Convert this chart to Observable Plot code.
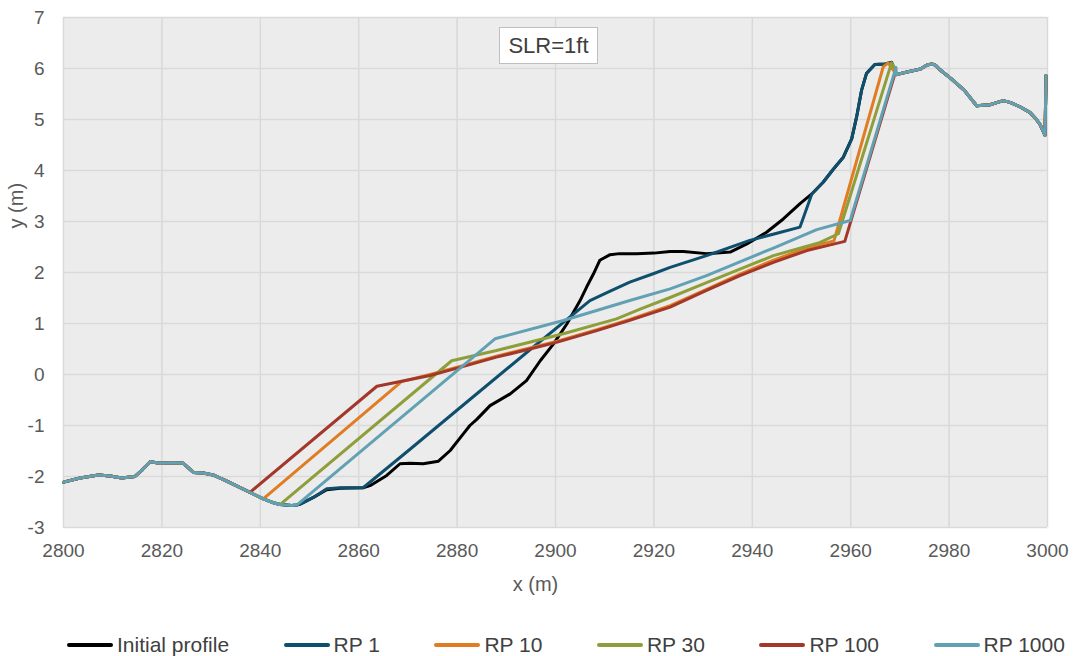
<!DOCTYPE html>
<html>
<head>
<meta charset="utf-8">
<script src="https://cdn.jsdelivr.net/npm/d3@7"></script>
<script src="https://cdn.jsdelivr.net/npm/@observablehq/plot@0.6"></script>
<style>
  body { margin: 0; background: #fff; font-family: "Liberation Sans", Arial, sans-serif; }
  #chart { position: relative; width: 1073px; height: 656px; }
  #chart svg { display: block; }
  .slr {
    position: absolute; left: 499px; top: 27px; width: 99px; height: 37px;
    box-sizing: border-box; border: 1px solid #bfbfbf; background: #fff;
    color: #404040; font-size: 22px; display: flex; align-items: center; justify-content: center;
  }
  .legend {
    position: absolute; left: 67px; top: 632px; height: 26px;
    display: flex; justify-content: flex-start; align-items: center; gap: 54.5px;
    font-size: 21px; color: #404040; white-space: nowrap;
  }
  .legend .item { display: flex; align-items: center; gap: 4px; }
  .legend .swatch { width: 46px; height: 4px; border-radius: 2px; }
</style>
</head>
<body>
<div id="chart"></div>
<script>
// Cross-shore beach profiles: initial and post-storm profiles per return period (SLR = 1 ft)
const seriesNames = ["Initial profile", "RP 1", "RP 10", "RP 30", "RP 100", "RP 1000"];
const seriesColors = ["#000000", "#0f4f6e", "#e07c22", "#8e9e3a", "#a2372a", "#62a1b4"];
const xTicks = [2800, 2820, 2840, 2860, 2880, 2900, 2920, 2940, 2960, 2980, 3000];
const yTicks = [-3, -2, -1, 0, 1, 2, 3, 4, 5, 6, 7];

// Offshore section shared by every profile [x (m), y (m)]
const offshore = [
  [2800, -2.11], [2803.4, -2.03], [2807.1, -1.97], [2809.5, -1.99], [2811.8, -2.03],
  [2814.5, -2.00], [2815.9, -1.88], [2817.6, -1.71], [2819.6, -1.74], [2822.3, -1.73],
  [2824.3, -1.74], [2826.4, -1.92], [2828.4, -1.93], [2830.4, -1.97], [2833.2, -2.09],
  [2835.5, -2.20], [2837.9, -2.31], [2840.6, -2.44], [2842.5, -2.51], [2844.0, -2.55],
  [2846.4, -2.57], [2847.4, -2.56], [2848.1, -2.54]
];

// Dune crest and back-barrier section shared by every profile
const onshore = [
  [2969.3, 5.88], [2971.0, 5.92], [2974.2, 5.99], [2975.5, 6.07], [2976.5, 6.09],
  [2977.3, 6.06], [2978.2, 5.97], [2980.4, 5.80], [2983.1, 5.57], [2985.6, 5.27],
  [2988.3, 5.29], [2991.0, 5.37], [2992.5, 5.33], [2994.4, 5.25], [2996.4, 5.14],
  [2997.5, 5.03], [2998.5, 4.90], [2999.5, 4.69], [2999.7, 5.86]
];

// Dune face shared by the initial profile and RP 1
const duneFace = [
  [2952.1, 3.54], [2954.4, 3.77], [2956.5, 4.03], [2958.5, 4.26], [2960.2, 4.62],
  [2961.2, 5.05], [2962.2, 5.57], [2963.2, 5.90], [2964.9, 6.08], [2967.0, 6.09],
  [2968.3, 6.12]
];

// Section of each profile between the shared parts; the start value is where it leaves the offshore section
const initialStart = 2848.1;
const initialMid = [
  [2850.8, -2.41], [2853.5, -2.26], [2856.2, -2.23], [2860.9, -2.22], [2862.3, -2.18],
  [2865.7, -1.98], [2868.4, -1.75], [2870.4, -1.74], [2873.1, -1.75], [2876.2, -1.70],
  [2878.6, -1.49], [2881.3, -1.16], [2882.6, -1.00], [2884.0, -0.88], [2886.7, -0.61],
  [2890.8, -0.38], [2894.1, -0.12], [2896.9, 0.27], [2899.6, 0.60], [2902.3, 0.99],
  [2905.0, 1.45], [2906.3, 1.71], [2907.7, 1.97], [2909.0, 2.24], [2911.1, 2.35],
  [2913.0, 2.37], [2916.5, 2.37], [2920.0, 2.38], [2923.3, 2.41], [2926.0, 2.41],
  [2930.7, 2.37], [2935.5, 2.40], [2938.9, 2.56], [2942.9, 2.79], [2946.3, 3.05],
  [2949.7, 3.35]
];
const rp1Start = 2848.1;
const rp1Mid = [
  [2850.8, -2.41], [2853.5, -2.24], [2856.2, -2.22], [2860.9, -2.22], [2870.0, -1.50],
  [2882.6, -0.49], [2895.0, 0.50], [2907.0, 1.45], [2911.0, 1.63], [2915.1, 1.81],
  [2920.0, 1.98], [2923.3, 2.10], [2930.7, 2.33], [2939.5, 2.63], [2945.0, 2.77],
  [2949.7, 2.89]
];
const rp10Start = 2840.6;
const rp10Mid = [
  [2868.7, -0.14], [2874.5, 0.00], [2880.6, 0.16], [2888.0, 0.36], [2894.8, 0.52],
  [2900.2, 0.65], [2908.4, 0.88], [2915.1, 1.08], [2923.3, 1.35], [2930.7, 1.67],
  [2937.5, 1.97], [2944.3, 2.24], [2951.1, 2.48], [2956.6, 2.62], [2966.6, 6.03],
  [2967.6, 6.11]
];
const rp30Start = 2844.0;
const rp30Mid = [
  [2878.9, 0.27], [2888.0, 0.47], [2901.6, 0.80], [2912.4, 1.09], [2917.2, 1.28],
  [2923.3, 1.51], [2930.7, 1.80], [2944.3, 2.33], [2953.8, 2.59], [2957.5, 2.76],
  [2968.3, 6.11], [2968.9, 6.02]
];
const rp100Start = 2837.9;
const rp100Mid = [
  [2863.7, -0.23], [2874.5, -0.02], [2880.6, 0.14], [2888.0, 0.34], [2894.8, 0.50],
  [2900.2, 0.63], [2908.4, 0.86], [2915.1, 1.06], [2923.3, 1.32], [2930.7, 1.65],
  [2937.5, 1.94], [2944.3, 2.20], [2951.1, 2.43], [2958.8, 2.61], [2969.0, 5.90]
];
const rp1000Start = 2847.4;
const rp1000Mid = [
  [2887.7, 0.70], [2901.6, 1.06], [2915.1, 1.45], [2923.3, 1.68], [2930.7, 1.94],
  [2944.3, 2.48], [2953.1, 2.84], [2959.9, 3.02], [2969.2, 6.02]
];

const profiles = [
  ["Initial profile", initialStart, [...initialMid, ...duneFace]],
  ["RP 1", rp1Start, [...rp1Mid, ...duneFace]],
  ["RP 10", rp10Start, rp10Mid],
  ["RP 30", rp30Start, rp30Mid],
  ["RP 100", rp100Start, rp100Mid],
  ["RP 1000", rp1000Start, rp1000Mid]
];

const rows = [];
for (const [series, start, mid] of profiles) {
  const pts = [...offshore.filter(p => p[0] <= start), ...mid, ...onshore];
  for (const [x, y] of pts) rows.push({series, x, y});
}

const fmt = d => String(d);

const chart = Plot.plot({
  width: 1073,
  height: 620,
  marginLeft: 63,
  marginRight: 26,
  marginTop: 17,
  marginBottom: 93,
  style: {fontFamily: "Liberation Sans, Arial, sans-serif", fontSize: "19px", color: "#595959", background: "transparent"},
  x: {domain: [2800, 3000], label: null},
  y: {domain: [-3, 7], label: null},
  color: {domain: seriesNames, range: seriesColors},
  marks: [
    Plot.frame({fill: "#ececec", stroke: null}),
    Plot.gridX(xTicks, {stroke: "#d9d9d9", strokeOpacity: 1, strokeWidth: 1.5}),
    Plot.gridY(yTicks, {stroke: "#d9d9d9", strokeOpacity: 1, strokeWidth: 1.5}),
    Plot.axisX(xTicks, {tickSize: 0, tickPadding: 16, tickFormat: fmt, fill: "#595959", fontSize: 19}),
    Plot.axisY(yTicks, {tickSize: 0, tickPadding: 19, tickFormat: fmt, fill: "#595959", fontSize: 19}),
    Plot.line(rows, {x: "x", y: "y", z: "series", stroke: "series", strokeWidth: 3, strokeLinejoin: "round", strokeLinecap: "round"}),
    Plot.text(["x (m)"], {frameAnchor: "bottom", lineAnchor: "middle", dy: 57, dx: -20, fontSize: 20, fill: "#595959"}),
    Plot.text(["y (m)"], {frameAnchor: "left", lineAnchor: "middle", rotate: -90, dx: -47, dy: -44, fontSize: 20, fill: "#595959"})
  ]
});

const root = document.getElementById("chart");
root.appendChild(chart);

const box = document.createElement("div");
box.className = "slr";
box.textContent = "SLR=1ft";
root.appendChild(box);

const legend = document.createElement("div");
legend.className = "legend";
seriesNames.forEach((name, i) => {
  const item = document.createElement("div");
  item.className = "item";
  const sw = document.createElement("span");
  sw.className = "swatch";
  sw.style.background = seriesColors[i];
  const label = document.createElement("span");
  label.textContent = name;
  item.appendChild(sw);
  item.appendChild(label);
  legend.appendChild(item);
});
root.appendChild(legend);
</script>
</body>
</html>
